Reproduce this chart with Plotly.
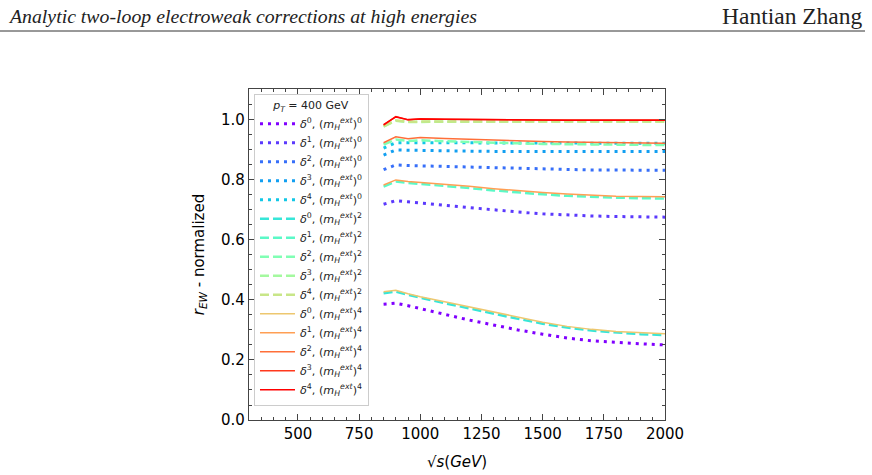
import numpy as np
import plotly.graph_objects as go

# ---------------- data ----------------
sqrt_s = [850, 900, 950, 1000, 1100, 1200, 1300, 1400, 1500, 1600, 1700, 1800, 1900, 2000]

d0_m0 = [0.386, 0.389, 0.381, 0.372, 0.352, 0.333, 0.316, 0.300, 0.286, 0.273, 0.264, 0.258, 0.254, 0.250]
d1_m0 = [0.719, 0.731, 0.727, 0.723, 0.716, 0.709, 0.701, 0.693, 0.687, 0.683, 0.680, 0.678, 0.677, 0.676]
d2_m0 = [0.834, 0.850, 0.848, 0.847, 0.844, 0.841, 0.839, 0.837, 0.835, 0.834, 0.833, 0.833, 0.832, 0.832]
d3_m0 = [0.883, 0.900, 0.899, 0.898, 0.897, 0.896, 0.895, 0.895, 0.894, 0.894, 0.894, 0.894, 0.895, 0.895]
d4_m0 = [0.906, 0.924, 0.924, 0.924, 0.923, 0.923, 0.922, 0.922, 0.922, 0.922, 0.922, 0.922, 0.922, 0.922]

d0_m2 = [0.422, 0.428, 0.417, 0.407, 0.389, 0.372, 0.354, 0.337, 0.321, 0.308, 0.298, 0.291, 0.286, 0.283]
d1_m2 = [0.778, 0.795, 0.790, 0.787, 0.780, 0.773, 0.765, 0.758, 0.752, 0.747, 0.743, 0.741, 0.739, 0.738]
d2_m2 = [0.918, 0.935, 0.930, 0.932, 0.929, 0.926, 0.924, 0.922, 0.920, 0.919, 0.918, 0.917, 0.917, 0.916]
d3_m2 = [0.978, 0.997, 0.993, 0.994, 0.994, 0.994, 0.994, 0.994, 0.994, 0.994, 0.994, 0.994, 0.994, 0.995]
d4_m2 = [0.979, 0.998, 0.994, 0.995, 0.995, 0.995, 0.995, 0.995, 0.995, 0.995, 0.995, 0.995, 0.995, 0.995]

d0_m4 = [0.427, 0.432, 0.421, 0.411, 0.394, 0.377, 0.359, 0.342, 0.326, 0.312, 0.302, 0.295, 0.290, 0.287]
d1_m4 = [0.783, 0.800, 0.795, 0.792, 0.786, 0.779, 0.771, 0.764, 0.758, 0.753, 0.749, 0.746, 0.745, 0.744]
d2_m4 = [0.924, 0.944, 0.937, 0.941, 0.938, 0.935, 0.932, 0.930, 0.928, 0.926, 0.925, 0.924, 0.923, 0.922]
d3_m4 = [0.983, 1.011, 1.000, 1.004, 1.002, 1.001, 1.000, 1.000, 1.000, 1.000, 1.000, 1.000, 1.000, 1.000]
d4_m4 = [0.984, 1.010, 1.001, 1.003, 1.002, 1.001, 1.000, 1.000, 0.999, 0.999, 0.999, 0.999, 0.999, 0.999]

series = [
    (0, 0, d0_m0), (1, 0, d1_m0), (2, 0, d2_m0), (3, 0, d3_m0), (4, 0, d4_m0),
    (0, 2, d0_m2), (1, 2, d1_m2), (2, 2, d2_m2), (3, 2, d3_m2), (4, 2, d4_m2),
    (0, 4, d0_m4), (1, 4, d1_m4), (2, 4, d2_m4), (3, 4, d3_m4), (4, 4, d4_m4),
]

x_ticks = [500, 750, 1000, 1250, 1500, 1750, 2000]
y_ticks = [0.0, 0.2, 0.4, 0.6, 0.8, 1.0]

# ---------------- colours (matplotlib "rainbow") ----------------
def rainbow(t):
    r = np.clip(abs(2 * t - 0.5), 0, 1)
    g = np.clip(np.sin(np.pi * t), 0, 1)
    b = np.clip(abs(np.cos(np.pi * t / 2)), 0, 1)
    return "rgb(%d,%d,%d)" % (round(r * 255), round(g * 255), round(b * 255))

n = len(series)
colors = [rainbow(i / (n - 1)) for i in range(n)]

styles = {
    0: dict(width=3, dash="3px,5px"),
    2: dict(width=2.5, dash="9px,4px"),
    4: dict(width=1.5, dash="solid"),
}

fig = go.Figure()
for i, (d, m, vals) in enumerate(series):
    name = "<i>δ</i><sup>%d</sup>, (<i>m</i><sub><i>H</i></sub><sup><i>ext</i></sup>)<sup>%d</sup>" % (d, m)
    st = styles[m]
    fig.add_trace(go.Scatter(
        x=sqrt_s, y=vals, mode="lines", name=name,
        line=dict(color=colors[i], width=st["width"], dash=st["dash"]),
    ))

axis_common = dict(
    showgrid=False, zeroline=False, showline=True, linecolor="#444", linewidth=1.3,
    mirror="ticks", ticks="inside", ticklen=6, tickwidth=1.2, tickcolor="#444",
    tickfont=dict(family="DejaVu Sans", size=15, color="black"),
)

fig.update_xaxes(
    range=[300, 2000], tickvals=x_ticks, ticktext=[str(v) for v in x_ticks],
    minor=dict(ticks="inside", dtick=50, tick0=0, ticklen=3, tickcolor="#444", tickwidth=1),
    title=dict(text="√<i>s</i>(<i>GeV</i>)", font=dict(family="DejaVu Sans", size=15, color="black"), standoff=14),
    **axis_common,
)
fig.update_yaxes(
    range=[0, 1.103], tickvals=y_ticks, ticktext=["%.1f" % v for v in y_ticks],
    minor=dict(ticks="inside", dtick=0.05, tick0=0, ticklen=3, tickcolor="#444", tickwidth=1),
    title=dict(text="<i>r</i><sub><i>EW</i></sub> - normalized", font=dict(family="DejaVu Sans", size=15, color="black"), standoff=12),
    **axis_common,
)

fig.update_layout(
    width=872, height=475,
    margin=dict(l=249, r=207, t=89, b=55, autoexpand=False),
    paper_bgcolor="white", plot_bgcolor="white",
    showlegend=True,
    legend=dict(
        x=0.012, y=0.985, xanchor="left", yanchor="top",
        bgcolor="rgba(255,255,255,0.85)", bordercolor="#cccccc", borderwidth=1,
        font=dict(family="DejaVu Sans", size=11.2, color="#222"),
        title=dict(text="<i>p</i><sub><i>T</i></sub> = 400 GeV", side="top center",
                   font=dict(family="DejaVu Sans", size=11, color="#222")),
        itemwidth=35, tracegroupgap=0,
    ),
    shapes=[dict(type="line", xref="paper", yref="paper", x0=-249/416, x1=(865-249)/416,
                 y0=(420-31)/331, y1=(420-31)/331,
                 line=dict(color="#333", width=1))],
    annotations=[
        dict(text="<i>Analytic two-loop electroweak corrections at high energies</i>",
             xref="paper", yref="paper", x=-243/416, y=(420-16)/331, xanchor="left", yanchor="middle",
             showarrow=False, font=dict(family="Liberation Serif", size=19.8, color="#222")),
        dict(text="Hantian Zhang",
             xref="paper", yref="paper", x=(865-249)/416, y=(420-16)/331, xanchor="right", yanchor="middle",
             showarrow=False, font=dict(family="Liberation Serif", size=23.5, color="#222")),
    ],
)

fig.write_html("out.html")
